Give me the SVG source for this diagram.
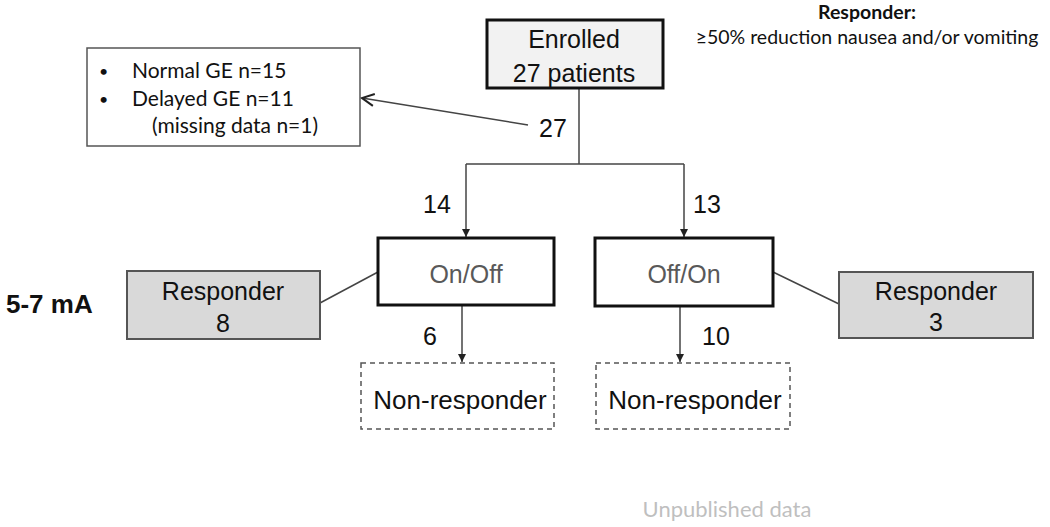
<svg xmlns="http://www.w3.org/2000/svg" width="1050" height="527" viewBox="0 0 1050 527">
<defs>
<marker id="tri" markerWidth="10" markerHeight="10" refX="8" refY="5" orient="auto" markerUnits="userSpaceOnUse">
<path d="M0,1 L8,5 L0,9 Z" fill="#222"/>
</marker>
<marker id="chev" markerWidth="16" markerHeight="16" refX="14" refY="8" orient="auto" markerUnits="userSpaceOnUse">
<path d="M2,2 L14,8 L2,14" fill="none" stroke="#222" stroke-width="2"/>
</marker>
</defs>
<style>
.ar{font-family:"Liberation Sans",Arial,sans-serif;}
.cal{font-family:Lato,"Liberation Sans",sans-serif;}
.conn{stroke:#444;stroke-width:1.5;fill:none;}
.main{fill:#fff;stroke:#111;stroke-width:3;}
.resp{fill:#d9d9d9;stroke:#555;stroke-width:2;}
.non{fill:#fff;stroke:#555;stroke-width:1.5;stroke-dasharray:5 4;}
.t25{font-size:25px;fill:#111;text-anchor:middle;}
.num{font-size:25px;fill:#111;}
</style>
<rect width="1050" height="527" fill="#fff"/>

<g id="connectors">
<path class="conn" d="M579,88 V164"/>
<path class="conn" d="M466,164 H684"/>
<path class="conn" d="M466,164 V237" marker-end="url(#tri)"/>
<path class="conn" d="M684,164 V237" marker-end="url(#tri)"/>
<path class="conn" d="M462,305 V362" marker-end="url(#tri)"/>
<path class="conn" d="M680,306 V362" marker-end="url(#tri)"/>
<path class="conn" d="M528,125 L362,98" marker-end="url(#chev)"/>
<path class="conn" d="M320,303 L378,272"/>
<path class="conn" d="M773,272 L839,304"/>
</g>

<g id="labels" class="ar">
<text class="num" x="539" y="137" font-size="26">27</text>
<text class="num" x="423" y="213">14</text>
<text class="num" x="693" y="213">13</text>
<text class="num" x="423" y="345">6</text>
<text class="num" x="702" y="345">10</text>
<text x="6" y="313" font-size="26" font-weight="bold" fill="#111">5-7 mA</text>
</g>

<g id="legend" class="cal">
<text x="867" y="19" font-size="19.5" font-weight="bold" text-anchor="middle" fill="#111">Responder:</text>
<text x="867" y="44" font-size="19.5" text-anchor="middle" fill="#111">≥50% reduction nausea and/or vomiting</text>
</g>

<g id="ge-box">
<rect x="87" y="48" width="273" height="98" fill="#fff" stroke="#555" stroke-width="1.5"/>
<g class="cal" font-size="21" fill="#111">
<text x="99" y="77" font-size="16">•</text>
<text x="132" y="78">Normal GE n=15</text>
<text x="99" y="105" font-size="16">•</text>
<text x="132" y="106">Delayed GE n=11</text>
<text x="152" y="133">(missing data n=1)</text>
</g>
</g>

<g id="enrolled">
<rect x="487" y="20" width="176" height="68" fill="#f2f2f2" stroke="#111" stroke-width="3"/>
<text class="ar t25" x="574" y="48">Enrolled</text>
<text class="ar t25" x="574" y="82">27 patients</text>
</g>

<g id="onoff">
<rect class="main" x="378" y="238" width="176" height="67"/>
<text class="ar t25" x="466" y="283" style="fill:#595959">On/Off</text>
</g>

<g id="offon">
<rect class="main" x="595" y="238" width="178" height="68"/>
<text class="ar t25" x="684" y="283" style="fill:#595959">Off/On</text>
</g>

<g id="responder8">
<rect class="resp" x="127" y="271" width="193" height="68"/>
<text class="ar t25" x="223" y="300">Responder</text>
<text class="ar t25" x="223" y="332">8</text>
</g>

<g id="responder3">
<rect class="resp" x="839" y="272" width="194" height="66"/>
<text class="ar t25" x="936" y="300">Responder</text>
<text class="ar t25" x="936" y="331">3</text>
</g>

<g id="nonresp1">
<rect class="non" x="361" y="363" width="193" height="66"/>
<text class="ar t25" x="460" y="409" style="font-size:26px">Non-responder</text>
</g>

<g id="nonresp2">
<rect class="non" x="596" y="363" width="194" height="66"/>
<text class="ar t25" x="695" y="409" style="font-size:26px">Non-responder</text>
</g>

<text x="727" y="517" class="cal" font-size="22" text-anchor="middle" fill="#bfbfbf">Unpublished data</text>
</svg>
